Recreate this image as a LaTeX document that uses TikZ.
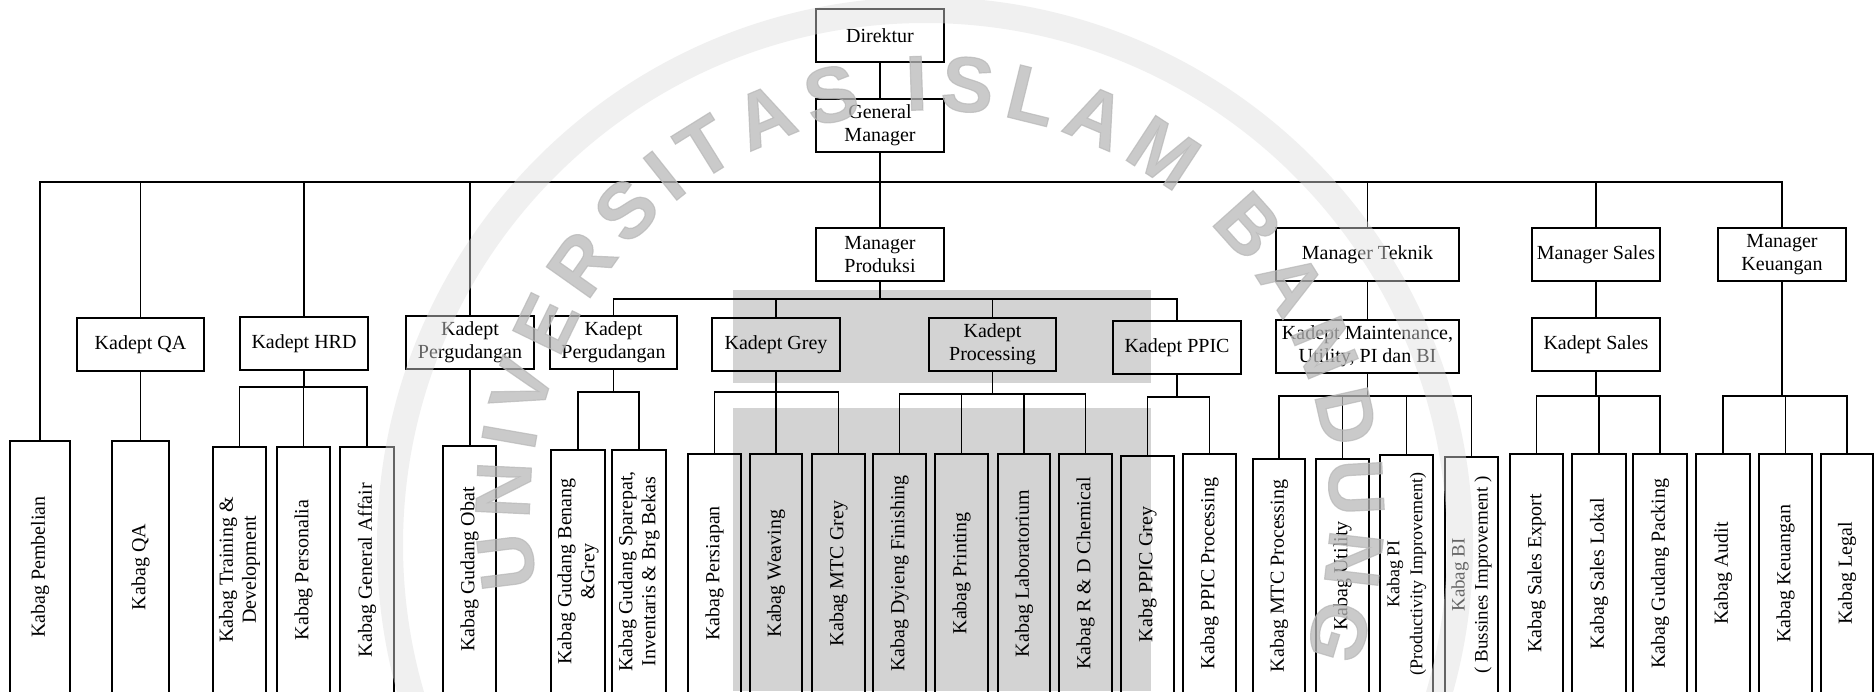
\documentclass[tikz,border=0pt]{standalone}
\usepackage{fontspec}
\setmainfont{Liberation Serif}
\newfontfamily\wmfont[FakeBold=1.5]{Liberation Sans}
\usetikzlibrary{decorations.text}
\definecolor{wmgray}{RGB}{185,185,185}
\definecolor{ringgray}{RGB}{222,222,222}
\definecolor{hlgray}{RGB}{211,211,211}
\newcommand\wmstyle{\wmfont\bfseries\fontsize{39}{44}\selectfont\color{wmgray}}
\newcommand\orgH[6]{\node[hbox, minimum width={(#4-#2)*0.5pt}, minimum height={(#5-#3)*0.5pt}] (#1) at ({(#2+#4)/2},{(#3+#5)/2}) {#6};}
\newcommand\orgV[7]{\node[vbox, font=\fontsize{#6}{11.5}\selectfont, minimum width={(#5-#3)*0.5pt}, minimum height={(#4-#2)*0.5pt}] (#1) at ({(#2+#4)/2},{(#3+#5)/2}) {#7};}
\begin{document}
\begin{tikzpicture}[x=0.5pt,y=-0.5pt,
  hbox/.style={draw=black, line width=0.6pt, inner sep=1pt, align=center, font=\fontsize{10}{11.5}\selectfont},
  vbox/.style={draw=black, line width=0.6pt, inner sep=1pt, align=center, rotate=90},
  conn/.style={draw=black, line width=0.9pt},
  hl/.style={fill=hlgray}]
\useasboundingbox (0,0) rectangle (1874,691);
\fill[white] (0,0) rectangle (1874,691);
% highlighted areas
\fill[hl] (733,290) rectangle (1151,383);
\fill[hl] (733,408) rectangle (1151,691);
% bus levels
\coordinate (yM) at (0,182);
\coordinate (yP) at (0,299);
\coordinate (yH) at (0,387);
\coordinate (yG2) at (0,392);
\coordinate (yGr) at (0,392);
\coordinate (yPr) at (0,394);
\coordinate (yPP) at (0,397);
\coordinate (yT) at (0,396);
\coordinate (yS) at (0,396);
\coordinate (yK) at (0,396);
% top level
\orgH{dir}{816}{9}{944}{62}{Direktur}
\orgH{gm}{816}{99}{944}{152}{General\\Manager}
\orgH{mprod}{816}{228}{944}{281}{Manager\\Produksi}
\orgH{mtek}{1276}{228}{1459}{281}{Manager Teknik}
\orgH{msales}{1532}{228}{1660}{281}{Manager Sales}
\orgH{mkeu}{1718}{228}{1846}{281}{Manager\\Keuangan}
% kadept
\orgH{kqa}{77}{318}{204}{371}{Kadept QA}
\orgH{khrd}{240}{317}{368}{370}{Kadept HRD}
\orgH{kperg1}{406}{316}{534}{369}{Kadept\\Pergudangan}
\orgH{kperg2}{550}{316}{677}{369}{Kadept\\Pergudangan}
\orgH{kgrey}{712}{318}{840}{371}{Kadept Grey}
\orgH{kproc}{929}{318}{1056}{371}{Kadept\\Processing}
\orgH{kppic}{1113}{321}{1241}{374}{Kadept PPIC}
\orgH{kmaint}{1276}{320}{1459}{373}{Kadept Maintenance,\\Utility, PI dan BI}
\orgH{ksales}{1532}{318}{1660}{371}{Kadept Sales}
% kabag
\orgV{pemb}{10}{441}{70}{693}{10}{Kabag Pembelian}
\orgV{kabqa}{112}{441}{169}{693}{10}{Kabag QA}
\orgV{train}{213}{447}{266}{693}{10}{Kabag Training \&\\Development}
\orgV{pers}{277}{447}{330}{693}{10}{Kabag Personalia}
\orgV{ga}{340}{447}{394}{693}{10}{Kabag General Affair}
\orgV{obat}{443}{446}{496}{693}{10}{Kabag Gudang Obat}
\orgV{benang}{551}{450}{605}{693}{10}{Kabag Gudang Benang\\\&Grey}
\orgV{spare}{612}{450}{666}{693}{10}{Kabag Gudang Sparepat,\\Inventaris \& Brg Bekas}
\orgV{persiapan}{688}{454}{741}{693}{10}{Kabag Persiapan}
\orgV{weaving}{750}{454}{802}{693}{10}{Kabag Weaving}
\orgV{mtcgrey}{812}{454}{865}{693}{10}{Kabag MTC Grey}
\orgV{dyieng}{873}{454}{926}{693}{10}{Kabag Dyieng Finishing}
\orgV{printing}{935}{454}{988}{693}{10}{Kabag Printing}
\orgV{lab}{998}{454}{1050}{693}{10}{Kabag Laboratorium}
\orgV{rnd}{1059}{454}{1112}{693}{10}{Kabag R \& D Chemical}
\orgV{ppicgrey}{1121}{456}{1174}{693}{10}{Kabg PPIC Grey}
\orgV{ppicproc}{1183}{454}{1236}{693}{10}{Kabag PPIC Processing}
\orgV{mtcproc}{1253}{459}{1305}{693}{10}{Kabag MTC Processing}
\orgV{utility}{1316}{459}{1369}{693}{10}{Kabag Utility}
\orgV{pi}{1380}{455}{1433}{693}{9}{Kabag PI\\(Productivity Improvement)}
\orgV{bi}{1445}{457}{1498}{693}{9.5}{Kabag BI\\( Bussines Improvement )}
\orgV{export}{1510}{454}{1563}{693}{10}{Kabag Sales Export}
\orgV{lokal}{1572}{454}{1626}{693}{10}{Kabag Sales Lokal}
\orgV{packing}{1633}{454}{1687}{693}{10}{Kabag Gudang Packing}
\orgV{audit}{1696}{454}{1750}{693}{10}{Kabag Audit}
\orgV{keu}{1759}{454}{1812}{693}{10}{Kabag Keuangan}
\orgV{legal}{1821}{454}{1873}{693}{10}{Kabag Legal}
% connectors: top
\draw[conn] (dir) -- (gm);
\draw[conn] (gm) -- (mprod);
\draw[conn] (pemb.east) -- (pemb.east |- yM) -- (mkeu.north |- yM) -- (mkeu.north);
\foreach \n in {kqa,khrd,kperg1,mtek,msales} \draw[conn] (\n.north) -- (\n.north |- yM);
\draw[conn] (kqa.south) -- (kqa.south |- kabqa.east);
\draw[conn] (kperg1.south) -- (kperg1.south |- obat.east);
\draw[conn] (mtek) -- (kmaint);
\draw[conn] (msales) -- (ksales);
% HRD
\draw[conn] (khrd.south) -- (khrd.south |- yH);
\draw[conn] (train.east) -- (train.east |- yH) -| (ga.east);
\draw[conn] (pers.east) -- (pers.east |- yH);
% Pergudangan 2
\draw[conn] (kperg2.south) -- (kperg2.south |- yG2);
\draw[conn] (benang.east) -- (benang.east |- yG2) -| (spare.east);
% Produksi
\draw[conn] (mprod.south) -- (mprod.south |- yP);
\draw[conn] (kperg2.north) -- (kperg2.north |- yP) -| (kppic.north);
\draw[conn] (kgrey.north) -- (kgrey.north |- yP);
\draw[conn] (kproc.north) -- (kproc.north |- yP);
% Grey
\draw[conn] (kgrey.south) -- (kgrey.south |- yGr);
\draw[conn] (persiapan.east) -- (persiapan.east |- yGr) -| (mtcgrey.east);
\draw[conn] (weaving.east) -- (weaving.east |- yGr);
% Processing
\draw[conn] (kproc.south) -- (kproc.south |- yPr);
\draw[conn] (dyieng.east) -- (dyieng.east |- yPr) -| (rnd.east);
\draw[conn] (printing.east) -- (printing.east |- yPr);
\draw[conn] (lab.east) -- (lab.east |- yPr);
% PPIC
\draw[conn] (kppic.south) -- (kppic.south |- yPP);
\draw[conn] (ppicgrey.east) -- (ppicgrey.east |- yPP) -| (ppicproc.east);
% Teknik
\draw[conn] (kmaint.south) -- (kmaint.south |- yT);
\draw[conn] (mtcproc.east) -- (mtcproc.east |- yT) -| (bi.east);
\draw[conn] (utility.east) -- (utility.east |- yT);
\draw[conn] (pi.east) -- (pi.east |- yT);
% Sales
\draw[conn] (ksales.south) -- (ksales.south |- yS);
\draw[conn] (export.east) -- (export.east |- yS) -| (packing.east);
\draw[conn] (lokal.east) -- (lokal.east |- yS);
% Keuangan
\draw[conn] (mkeu.south) -- (mkeu.south |- yK);
\draw[conn] (audit.east) -- (audit.east |- yK) -| (legal.east);
\draw[conn] (keu.east) -- (keu.east |- yK);
% watermark
\begin{scope}
\clip (0,0) rectangle (1874,691);
\draw[line width=13pt, draw=ringgray, opacity=0.45] (925,545) circle[radius=535];
\begin{scope}[opacity=0.75]
\path[decorate, decoration={text along path, text={|\wmstyle|UNIVERSITAS ISLAM BANDUNG}, text align={fit to path}}]
  (537.3,586.3) arc[start angle=-191, end angle=21, radius=400];
\end{scope}
\end{scope}
\end{tikzpicture}
\end{document}
